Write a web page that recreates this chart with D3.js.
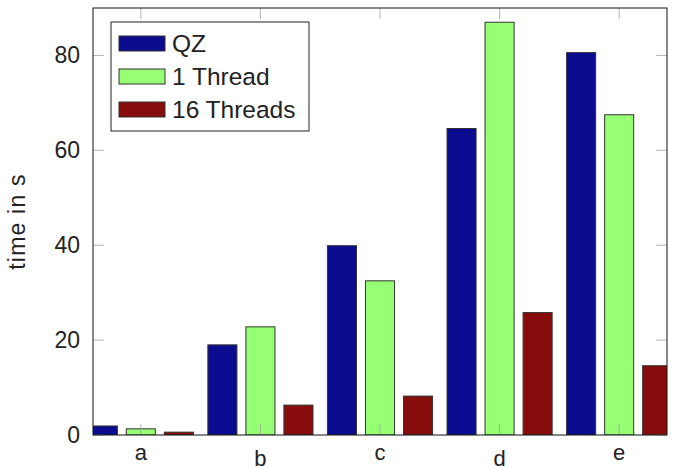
<!DOCTYPE html>
<html>
<head>
<meta charset="utf-8">
<script src="https://cdn.jsdelivr.net/npm/d3@7"></script>
<style>
  body { margin: 0; background: #fff; }
  text { font-family: "Liberation Sans", Arial, sans-serif; fill: #222; }
</style>
</head>
<body>
<div id="chart"></div>
<script>
const categories = ['a', 'b', 'c', 'd', 'e'];
const series = ['QZ', '1 Thread', '16 Threads'];
const qz = [1.9, 19.0, 39.9, 64.6, 80.6];
const oneThread = [1.3, 22.8, 32.5, 87.0, 67.5];
const sixteenThreads = [0.6, 6.3, 8.2, 25.8, 14.6];
const yTicks = [0, 20, 40, 60, 80];
const colors = ['#0b0b8f', '#96ff73', '#870c0c'];

const width = 673, height = 468;
const plotL = 93, plotR = 667, plotT = 8, plotB = 435;

const svg = d3.select('#chart').append('svg')
  .attr('width', width).attr('height', height);

const x = d3.scaleLinear().domain([-0.4, 4.4]).range([plotL, plotR]);
const y = d3.scaleLinear().domain([0, 90]).range([plotB, plotT]);

svg.append('clipPath').attr('id', 'clip')
  .append('rect').attr('x', plotL).attr('y', plotT)
  .attr('width', plotR - plotL).attr('height', plotB - plotT);

const allValues = [qz, oneThread, sixteenThreads];
const barW = 0.243, offset = 0.318;

const bars = [];
allValues.forEach((vals, s) => {
  vals.forEach((v, i) => bars.push({s, i, v}));
});

const g = svg.append('g').attr('clip-path', 'url(#clip)');
g.selectAll('rect.bar')
  .data(bars)
  .enter()
  .append('rect')
  .attr('class', 'bar')
  .attr('x', d => x(d.i + (d.s - 1) * offset - barW / 2))
  .attr('width', d => x(barW) - x(0))
  .attr('y', d => y(d.v))
  .attr('height', d => y(0) - y(d.v))
  .attr('fill', d => colors[d.s])
  .attr('stroke', '#333')
  .attr('stroke-width', 1);

// ticks (bottom/top at categories, left/right at values)
const tickLen = 11;
const ticks = svg.append('g').attr('stroke', '#999').attr('stroke-width', 1).attr('opacity', 0.7);
categories.forEach((c, i) => {
  ticks.append('line').attr('x1', x(i)).attr('x2', x(i)).attr('y1', plotB).attr('y2', plotB - tickLen);
  ticks.append('line').attr('x1', x(i)).attr('x2', x(i)).attr('y1', plotT).attr('y2', plotT + tickLen);
});
yTicks.forEach(t => {
  ticks.append('line').attr('x1', plotL).attr('x2', plotL + tickLen).attr('y1', y(t)).attr('y2', y(t));
  ticks.append('line').attr('x1', plotR).attr('x2', plotR - tickLen).attr('y1', y(t)).attr('y2', y(t));
});

// frame
svg.append('rect')
  .attr('x', plotL).attr('y', plotT)
  .attr('width', plotR - plotL).attr('height', plotB - plotT)
  .attr('fill', 'none').attr('stroke', '#111').attr('stroke-width', 1);

// y tick labels
svg.selectAll('text.ylab')
  .data(yTicks)
  .enter()
  .append('text')
  .attr('class', 'ylab')
  .attr('x', plotL - 13)
  .attr('y', d => y(d) + 8)
  .attr('text-anchor', 'end')
  .attr('font-size', '23px')
  .text(d => d);

// x tick labels: tops aligned like pgfplots
svg.selectAll('text.xlab')
  .data(categories)
  .enter()
  .append('text')
  .attr('class', 'xlab')
  .attr('x', (d, i) => x(i))
  .attr('y', d => (d === 'b' || d === 'd') ? 466 : 460)
  .attr('text-anchor', 'middle')
  .attr('font-size', '22px')
  .text(d => d);

// y axis title
svg.append('text')
  .attr('transform', `translate(25, ${(plotT + plotB) / 2}) rotate(-90)`)
  .attr('text-anchor', 'middle')
  .attr('font-size', '23px')
  .attr('letter-spacing', '1.2px')
  .text('time in s');

// legend
const lg = svg.append('g').attr('transform', 'translate(111, 22)');
lg.append('rect').attr('width', 198).attr('height', 109)
  .attr('fill', '#fff').attr('stroke', '#222').attr('stroke-width', 1);
series.forEach((name, s) => {
  const row = lg.append('g').attr('transform', `translate(8, ${14 + s * 33})`);
  row.append('rect').attr('width', 46).attr('height', 15)
    .attr('fill', colors[s]).attr('stroke', '#333').attr('stroke-width', 1);
  row.append('text').attr('x', 53).attr('y', 16)
    .attr('font-size', '24.5px').text(name);
});
</script>
</body>
</html>
